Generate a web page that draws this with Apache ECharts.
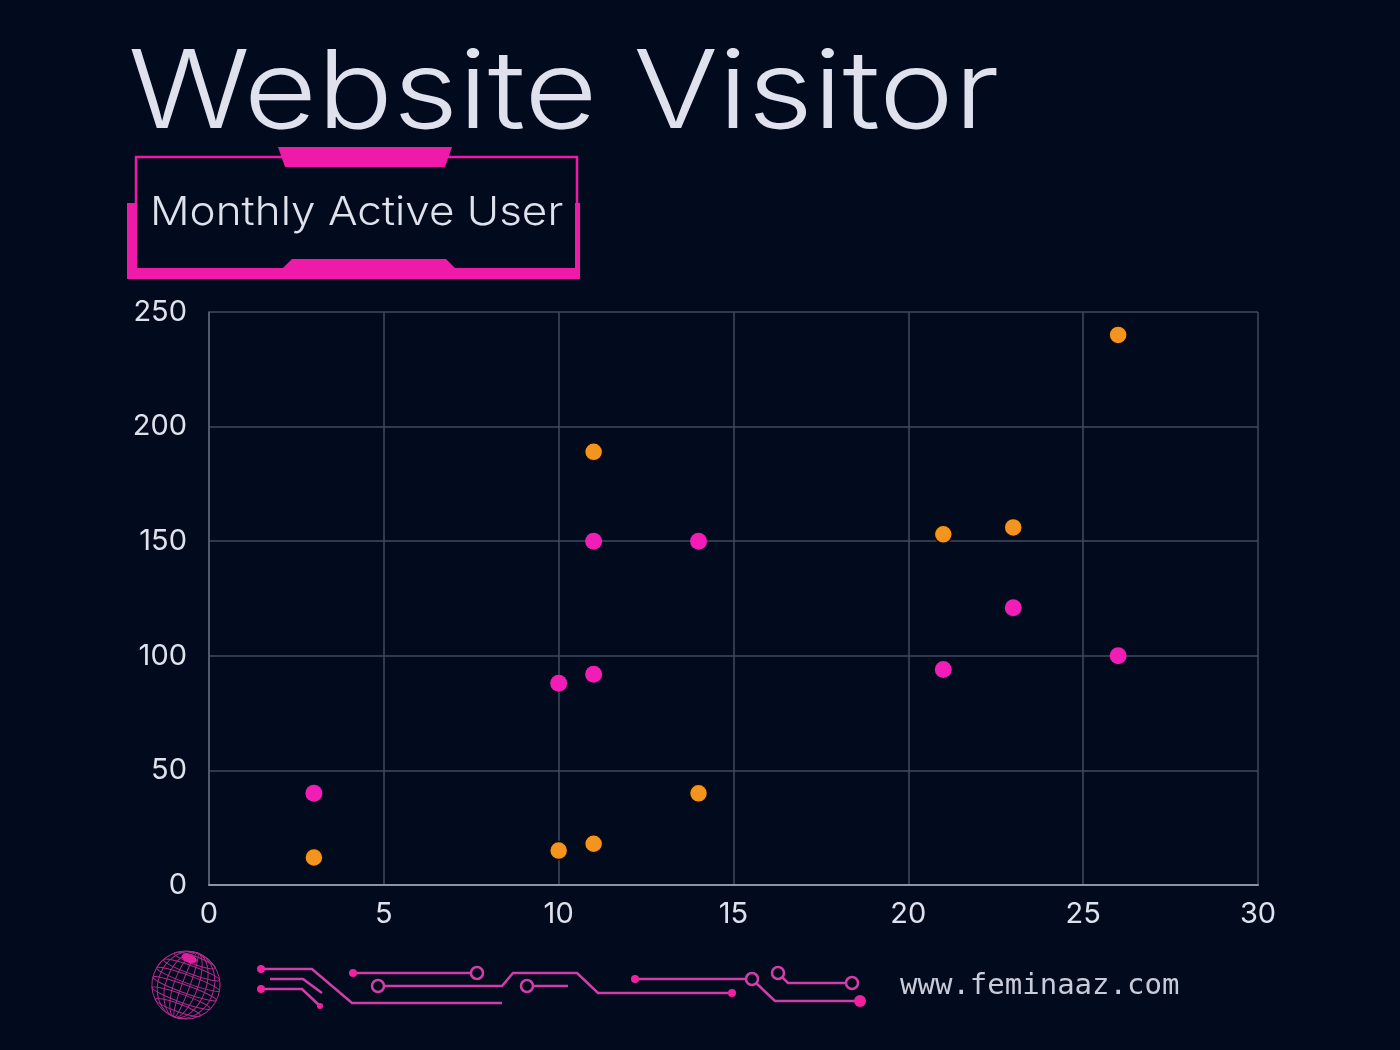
<!DOCTYPE html>
<html>
<head>
<meta charset="utf-8">
<script src="https://cdn.jsdelivr.net/npm/echarts@6/dist/echarts.min.js"></script>
<style>
  html, body { margin: 0; padding: 0; background: #020a1e; }
  #main { width: 1400px; height: 1050px; }
</style>
</head>
<body>
<div id="main"></div>
<script>
// data
const xTicks = [0, 5, 10, 15, 20, 25, 30];
const yTicks = [0, 50, 100, 150, 200, 250];
const orangeX = [3, 10, 11, 11, 14, 21, 23, 26];
const orangeY = [12, 15, 18, 189, 40, 153, 156, 240];
const pinkX = [3, 10, 11, 11, 14, 21, 23, 26];
const pinkY = [40, 88, 92, 150, 150, 94, 121, 100];

const PINK = "#f01aa8";
const DOT_PINK = "#f21db6";
const ORANGE = "#f3941f";
const TEXT = "#dfe2ec";

function pairs(xs, ys) {
  return xs.map((x, i) => [x, ys[i]]);
}

// circuit decoration
const circuitLines = [
  [[261, 969], [312, 969], [352, 1003], [502, 1003]],
  [[270, 979], [303, 979], [322, 993]],
  [[261, 989], [302, 989], [320, 1006]],
  [[353, 973], [471, 973]],
  [[384, 986], [502, 986], [513, 973], [577, 973], [598, 993], [732, 993]],
  [[532, 986], [568, 986]],
  [[635, 979], [746, 979]],
  [[756, 983], [775, 1001], [860, 1001]],
  [[782, 977], [788, 983], [846, 983]]
];
const circuitDots = [[261, 969, 4], [261, 989, 4], [320, 1006, 3], [353, 973, 4], [732, 993, 4], [635, 979, 4], [860, 1001, 6]];
const circuitRings = [[477, 973], [378, 986], [527, 986], [752, 979], [778, 973], [852, 983]];

const graphics = [];
circuitLines.forEach(pts => graphics.push({
  type: "polyline", shape: { points: pts },
  style: { stroke: "#d23ea8", lineWidth: 2.5, fill: null }
}));
circuitDots.forEach(d => graphics.push({
  type: "circle", shape: { cx: d[0], cy: d[1], r: d[2] }, style: { fill: "#f0209f" }
}));
circuitRings.forEach(d => graphics.push({
  type: "circle", shape: { cx: d[0], cy: d[1], r: 6 },
  style: { fill: "#020a1e", stroke: "#d23ea8", lineWidth: 2.5 }
}));

// wireframe globe
const globe = [];
[0, 8, 16, 24, 30].forEach(rx => globe.push({
  type: "ellipse", shape: { cx: 0, cy: 0, rx: rx + 4, ry: 34 },
  style: { fill: null, stroke: "#b02c8c", lineWidth: 1 }
}));
[-26, -16, -6, 4, 14, 24].forEach(y => globe.push({
  type: "ellipse", shape: { cx: 0, cy: y, rx: Math.sqrt(Math.max(34 * 34 - y * y, 0)), ry: 4 },
  style: { fill: null, stroke: "#b02c8c", lineWidth: 1 }
}));
globe.push({ type: "ellipse", shape: { cx: -6, cy: -26, rx: 8, ry: 4 }, style: { fill: "#e0209f" } });
graphics.push({ type: "group", x: 186, y: 985, rotation: -0.35, children: globe });

// title box
const boxParts = [
  { type: "polyline", shape: { points: [[136, 205], [136, 157], [577, 157], [577, 275]] },
    style: { stroke: PINK, lineWidth: 2.5, fill: null } },
  { type: "rect", shape: { x: 127, y: 203, width: 10, height: 76 }, style: { fill: PINK } },
  { type: "rect", shape: { x: 127, y: 268, width: 453, height: 11 }, style: { fill: PINK } },
  { type: "rect", shape: { x: 575, y: 203, width: 5, height: 76 }, style: { fill: PINK } },
  { type: "polygon", shape: { points: [[278, 147], [452, 147], [445, 167], [285, 167]] }, style: { fill: PINK } },
  { type: "polygon", shape: { points: [[292, 259], [446, 259], [455, 268], [283, 268]] }, style: { fill: PINK } }
];
boxParts.forEach(p => graphics.push(p));

graphics.push({
  type: "text", x: 128, y: 42, scaleX: 1.17,
  style: { text: "Website Visitor", fill: TEXT, font: "300 108px Inter", verticalAlign: "top" }
});
graphics.push({
  type: "text", x: 150, y: 193, scaleX: 1.1,
  style: { text: "Monthly Active User", fill: TEXT, font: "300 40px Inter", verticalAlign: "top" }
});
graphics.push({
  type: "text", x: 900, y: 972,
  style: { text: "www.feminaaz.com", fill: "#c9ccd8", font: "29px 'DejaVu Sans Mono'", verticalAlign: "top" }
});

const chart = echarts.init(document.getElementById("main"));
chart.setOption({
  backgroundColor: "#020a1e",
  animation: false,
  grid: { left: 209, right: 142, top: 312, bottom: 165 },
  xAxis: {
    type: "value", min: xTicks[0], max: xTicks[xTicks.length - 1], interval: 5,
    axisLine: { show: true, lineStyle: { color: "#8d93a3", width: 2 } },
    axisTick: { show: false },
    splitLine: { show: true, lineStyle: { color: "#414a5e", width: 1.5 } },
    axisLabel: { color: TEXT, fontSize: 29, fontFamily: "Inter", margin: 15 }
  },
  yAxis: {
    type: "value", min: yTicks[0], max: yTicks[yTicks.length - 1], interval: 50,
    axisLine: { show: true, lineStyle: { color: "#5d6475", width: 1.5 } },
    axisTick: { show: false },
    splitLine: { show: true, lineStyle: { color: "#414a5e", width: 1.5 } },
    axisLabel: { color: TEXT, fontSize: 29, fontFamily: "Inter", margin: 22 }
  },
  series: [
    {
      type: "scatter", data: pairs(orangeX, orangeY), symbolSize: 18,
      itemStyle: { color: ORANGE, opacity: 1, borderColor: "#150c04", borderWidth: 1.5 }
    },
    {
      type: "scatter", data: pairs(pinkX, pinkY), symbolSize: 17,
      itemStyle: { color: DOT_PINK, opacity: 1 }
    }
  ],
  graphic: graphics
});
</script>
</body>
</html>
